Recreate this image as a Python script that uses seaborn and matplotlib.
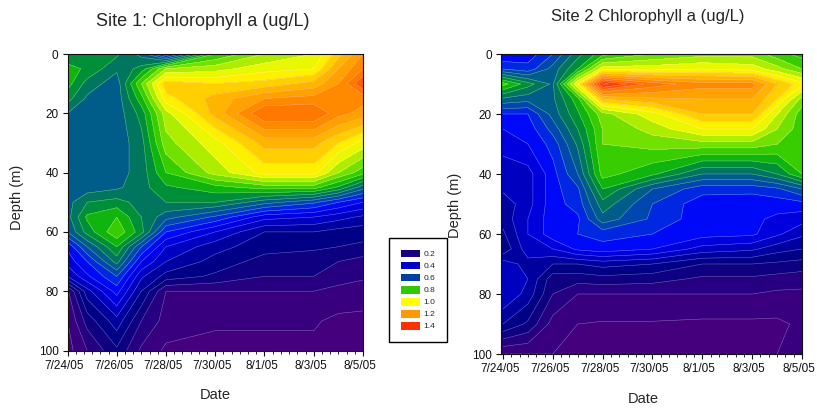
import numpy as np
import seaborn as sns
import matplotlib.pyplot as plt
from matplotlib.patches import Patch
from matplotlib.ticker import MultipleLocator
from matplotlib.transforms import ScaledTranslation

sns.set_style("ticks")
plt.rcParams['font.family'] = ['Liberation Sans', 'DejaVu Sans']

dateLabels = ["7/24/05", "7/26/05", "7/28/05", "7/30/05", "8/1/05", "8/3/05", "8/5/05"]
dateTicks = [0, 2, 4, 6, 8, 10, 12]
depthTicks = [0, 20, 40, 60, 80, 100]
legendValues = ["0.2", "0.4", "0.6", "0.8", "1.0", "1.2", "1.4"]
legendColors = ["#1a0080", "#0000c8", "#0040a0", "#30c800", "#ffff00", "#ff9900", "#ff3000"]

days1 = [0, 0.8, 2, 3, 4, 6, 8, 10, 11, 12]
depth1 = [0, 5, 10, 15, 20, 30, 40, 45, 50, 55, 60, 65, 70, 75, 80, 90, 100]
chl1 = [
    [.71, .71, .71, .63, .45, .80, .90, .95, 1.08, 1.20],
    [.77, .74, .66, .72, .90, .93, .98, 1.00, 1.15, 1.25],
    [.77, .68, .62, .85, 1.08, 1.05, 1.07, 1.12, 1.20, 1.35],
    [.72, .64, .62, .78, 1.03, 1.12, 1.20, 1.22, 1.25, 1.22],
    [.65, .62, .62, .72, .93, 1.12, 1.30, 1.30, 1.22, 1.18],
    [.63, .62, .62, .68, .88, .98, 1.12, 1.12, 1.05, .98],
    [.63, .62, .63, .67, .80, .92, 1.02, 1.02, .90, .82],
    [.63, .62, .64, .68, .74, .78, .82, .82, .74, .62],
    [.63, .70, .72, .68, .70, .70, .62, .56, .50, .45],
    [.63, .76, .80, .70, .62, .54, .42, .40, .37, .34],
    [.60, .72, .84, .72, .50, .40, .30, .30, .28, .27],
    [.46, .60, .75, .55, .40, .32, .27, .26, .25, .24],
    [.42, .50, .67, .45, .35, .28, .23, .22, .20, .18],
    [.35, .44, .55, .36, .28, .24, .20, .20, .18, .16],
    [.14, .33, .47, .30, .15, .15, .15, .15, .13, .12],
    [.10, .22, .33, .20, .13, .105, .105, .105, .09, .09],
    [.08, .15, .24, .14, .09, .09, .09, .09, .08, .08],
]

days2 = [0, 1, 2, 3, 4, 6, 8, 10, 11, 12]
depth2 = [0, 5, 10, 15, 20, 25, 30, 40, 45, 50, 55, 60, 65, 70, 75, 80, 90, 100]
chl2 = [
    [.45, .47, .55, .68, .78, .85, .88, .88, .82, .78],
    [.55, .52, .62, .75, .98, .98, 1.00, .98, .92, .85],
    [.82, .72, .64, 1.00, 1.42, 1.28, 1.22, 1.22, 1.10, 1.02],
    [.64, .62, .64, .78, 1.10, 1.14, 1.15, 1.15, 1.05, .88],
    [.50, .50, .62, .74, .88, .98, 1.10, 1.10, .95, .82],
    [.45, .47, .57, .70, .85, .92, 1.00, 1.00, .90, .82],
    [.42, .45, .52, .66, .85, .87, .88, .88, .85, .82],
    [.37, .38, .48, .60, .82, .76, .65, .65, .70, .80],
    [.36, .38, .48, .54, .75, .60, .52, .52, .54, .60],
    [.32, .38, .48, .52, .68, .55, .47, .46, .47, .48],
    [.32, .40, .48, .49, .63, .54, .47, .46, .44, .42],
    [.29, .40, .48, .50, .52, .50, .47, .46, .41, .36],
    [.26, .38, .40, .46, .48, .45, .38, .36, .32, .30],
    [.38, .33, .30, .30, .32, .30, .25, .25, .24, .23],
    [.40, .35, .22, .22, .23, .22, .19, .19, .18, .17],
    [.40, .33, .20, .15, .15, .15, .15, .15, .14, .14],
    [.30, .24, .13, .10, .095, .095, .09, .09, .09, .11],
    [.10, .10, .10, .09, .09, .09, .09, .09, .10, .12],
]

# one stop per 0.05 over 0 - 1.5
stops = ["#48007c", "#48007c", "#40007e", "#2e0080", "#1a0080", "#000080", "#000090",
         "#0000b0", "#0000d0", "#0000f0", "#0010ff", "#0040c0", "#0050a0", "#006a70",
         "#008050", "#00a020", "#20c400", "#50d800", "#90e800", "#d0f000", "#ffff00",
         "#ffe000", "#ffc000", "#ffab00", "#ff9900", "#ff8000", "#ff7000", "#ff5000",
         "#ff3000", "#ff1000", "#ff0000"]
cmap = sns.blend_palette(stops, n_colors=31, as_cmap=True)
levels = np.arange(0, 1.55, 0.05)


def draw_panel(ax, days, depth, chl):
    ax.contourf(days, depth, chl, levels=levels, cmap=cmap, vmin=0, vmax=1.5)
    ax.contour(days, depth, chl, levels=levels, colors="white", linewidths=0.35, alpha=0.45)
    ax.set_ylim(100, 0)
    ax.set_yticks(depthTicks)
    ax.set_xticks(dateTicks)
    ax.set_xticklabels(dateLabels)
    ax.xaxis.set_minor_locator(MultipleLocator(1 / 3))
    ax.tick_params(axis="both", labelsize=8.5, length=3.5, width=0.8, pad=3, colors="#111111")
    ax.tick_params(axis="x", which="minor", length=2, width=0.7)
    # date labels sit a little left of their ticks in the original
    shift = ScaledTranslation(-3 / 100, 0, fig.dpi_scale_trans)
    for lab in ax.get_xticklabels():
        lab.set_transform(lab.get_transform() + shift)
    for s in ax.spines.values():
        s.set_linewidth(0.8)
        s.set_color("#111111")


W, H = 817, 411
fig = plt.figure(figsize=(W / 100, H / 100), dpi=100, facecolor="white")
ax1 = fig.add_axes([67.5 / W, 1 - 350.5 / H, 295.5 / W, 296.5 / H])
ax2 = fig.add_axes([501 / W, 1 - 354 / H, 301 / W, 300 / H])

draw_panel(ax1, days1, depth1, chl1)
ax1.set_xlim(0, 12)
draw_panel(ax2, days2, depth2, chl2)
ax2.set_xlim(-0.08, 12)

fig.text(203 / W, 1 - 21 / H, "Site 1: Chlorophyll a (ug/L)", ha="center", va="center", fontsize=13)
fig.text(648 / W, 1 - 17 / H, "Site 2 Chlorophyll a (ug/L)", ha="center", va="center", fontsize=12)
fig.text(215 / W, 1 - 395 / H, "Date", ha="center", va="center", fontsize=10.5)
fig.text(643 / W, 1 - 399 / H, "Date", ha="center", va="center", fontsize=10.5)
fig.text(17 / W, 1 - 197 / H, "Depth (m)", rotation=90, ha="center", va="center", fontsize=10.5)
fig.text(455 / W, 1 - 205 / H, "Depth (m)", rotation=90, ha="center", va="center", fontsize=10.5)

handles = [Patch(facecolor=c, edgecolor="none") for c in legendColors]
leg = fig.legend(handles, legendValues, loc="center", bbox_to_anchor=(418 / W, 1 - 290 / H),
                 fontsize=6, frameon=True, fancybox=False, edgecolor="black", framealpha=1,
                 handlelength=2.28, handleheight=1.08, labelspacing=0.39, borderpad=1.38,
                 handletextpad=0.48, borderaxespad=0)
leg.get_frame().set_linewidth(1.0)

fig.savefig("out.png", dpi=100)
